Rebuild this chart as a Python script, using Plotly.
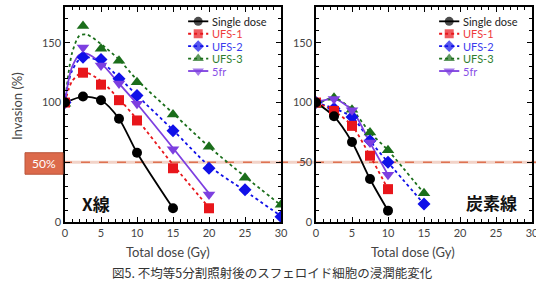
import plotly.graph_objects as go

# ---------------- data ----------------
series_names = ["Single dose", "UFS-1", "UFS-2", "UFS-3", "5fr"]

# X-ray panel (measured points)
x_dose_single = [0, 2.5, 5, 7.5, 10, 15]
x_single = [100, 105, 102, 86.5, 58, 11.5]
x_dose_ufs1 = [0, 2.5, 5, 7.5, 10, 15, 20]
x_ufs1 = [100, 125, 115, 102, 85, 45, 11.5]
x_dose_ufs2 = [0, 2.5, 5, 7.5, 10, 15, 20, 25, 30]
x_ufs2 = [100, 138, 136, 120, 106, 76.5, 45, 27, 4.5]
x_dose_ufs3 = [0, 2.5, 5, 7.5, 10, 15, 20, 25, 30]
x_ufs3 = [99, 164, 145, 135, 117, 90, 63, 37, 14.5]
x_dose_5fr = [0, 2.5, 5, 7.5, 10, 15, 20]
x_5fr = [100, 146, 131, 116, 99, 61, 23]

# X-ray panel fitted curves
fit_dose_long = [0, 0.5, 1, 2, 3, 5, 7.5, 10, 15, 20, 25, 30]
fit_ufs3 = [100, 125, 142, 156, 157, 149, 136, 119, 91, 63, 38, 14]
fit_ufs2 = [100, 117, 127, 136, 138, 134, 121, 106, 77, 47, 26, 5]
fit_dose_short = [0, 0.5, 1, 2, 3, 5, 7.5, 10, 15, 20]
fit_5fr = [100, 119, 130, 140, 141, 133, 116, 99, 62, 24]
fit_ufs1 = [100, 111, 118, 124, 125, 118, 103, 86, 48, 12]

# Carbon-ion panel
c_dose_single = [0, 2.5, 5, 7.5, 10]
c_single = [100, 88.5, 67, 36, 9.5]
c_dose_ufs1 = [0, 2.5, 5, 7.5, 10]
c_ufs1 = [100, 93, 80.5, 55.5, 27.5]
c_dose_ufs2 = [0, 2.5, 5, 7.5, 10, 15]
c_ufs2 = [100, 95, 88, 68, 50, 15]
c_dose_ufs3 = [0, 2.5, 5, 7.5, 10, 15]
c_ufs3 = [98, 104, 94, 75, 60, 24]
c_dose_5fr = [0, 2.5, 5, 7.5, 10]
c_5fr = [100, 103, 93.5, 66.5, 39.5]

threshold = 50
x_ticks = [0, 5, 10, 15, 20, 25, 30]
y_ticks = [0, 50, 100, 150]

# ---------------- styles ----------------
colors = ["#000000", "#e8161b", "#1010e8", "#1b6e1b", "#7d3fe0"]
text_colors = ["#222222", "#ee3b3b", "#3b3bee", "#2e7d2e", "#8a4fe6"]
symbols = ["circle", "square", "diamond", "triangle-up", "triangle-down"]
msizes = [10, 10, 10, 11, 11]
dashes = ["solid", "dot", "dot", "dot", "solid"]
LW = 1.8

fig = go.Figure()


def add_line(x, y, i, xa, ya, shape="spline"):
    fig.add_trace(go.Scatter(x=x, y=y, mode="lines", xaxis=xa, yaxis=ya,
                             line=dict(color=colors[i], width=LW, dash=dashes[i], shape=shape, smoothing=0.8),
                             showlegend=False, hoverinfo="skip"))


def add_markers(x, y, i, xa, ya):
    fig.add_trace(go.Scatter(x=x, y=y, mode="markers", xaxis=xa, yaxis=ya,
                             marker=dict(color=colors[i], symbol=symbols[i], size=msizes[i],
                                         line=dict(width=0)),
                             showlegend=False, name=series_names[i]))


# X-ray panel
add_line(fit_dose_long, fit_ufs3, 3, "x", "y")
add_line(fit_dose_long, fit_ufs2, 2, "x", "y")
add_line(fit_dose_short, fit_ufs1, 1, "x", "y")
add_line(fit_dose_short, fit_5fr, 4, "x", "y")
add_line(x_dose_single, x_single, 0, "x", "y")
add_markers(x_dose_ufs3, x_ufs3, 3, "x", "y")
add_markers(x_dose_ufs2, x_ufs2, 2, "x", "y")
add_markers(x_dose_5fr, x_5fr, 4, "x", "y")
add_markers(x_dose_ufs1, x_ufs1, 1, "x", "y")
add_markers(x_dose_single, x_single, 0, "x", "y")

# Carbon panel
c_data = [(c_dose_single, c_single), (c_dose_ufs1, c_ufs1), (c_dose_ufs2, c_ufs2),
          (c_dose_ufs3, c_ufs3), (c_dose_5fr, c_5fr)]
for i in [3, 2, 1, 4, 0]:
    add_line(c_data[i][0], c_data[i][1], i, "x2", "y2")
for i in [3, 2, 4, 1, 0]:
    add_markers(c_data[i][0], c_data[i][1], i, "x2", "y2")

# Legends (drawn inside each panel)
LEG_X0, LEG_X1, LEG_XT = 17.1, 19.9, 20.2
LEG_Y0, LEG_DY = 168, 10.4
annotations = []
for xa, ya, axn in [("x", "y", ""), ("x2", "y2", "2")]:
    for i, nm in enumerate(series_names):
        yy = LEG_Y0 - i * LEG_DY
        fig.add_trace(go.Scatter(
            x=[LEG_X0, (LEG_X0 + LEG_X1) / 2, LEG_X1], y=[yy, yy, yy],
            mode="lines+markers", xaxis=xa, yaxis=ya,
            line=dict(color=colors[i], width=LW, dash=dashes[i]),
            marker=dict(color=colors[i], symbol=symbols[i], size=[0, msizes[i] - 1, 0], line=dict(width=0)),
            showlegend=False, hoverinfo="skip"))
        annotations.append(dict(x=LEG_XT, y=yy, xref="x" + axn, yref="y" + axn, text=nm,
                                showarrow=False, xanchor="left", yanchor="middle",
                                font=dict(size=11, color=text_colors[i], family="Lato")))

# geometry helpers (pixels -> paper)
L, R, T, B = 65, 4, 7, 60
W, H = 536, 282
PW, PH = W - L - R, H - T - B


def px(x):
    return (x - L) / PW


def py(y):
    return (H - B - y) / PH


axis_common = dict(showline=True, linecolor="black", linewidth=1.5, mirror="ticks",
                   ticks="inside", ticklen=5, tickwidth=1.2, tickcolor="black",
                   showgrid=False, zeroline=False, ticklabeloverflow="allow",
                   tickfont=dict(size=11, color="#444444", family="Lato"))

fig.update_layout(
    width=W, height=H,
    margin=dict(l=L, r=R, t=T, b=B, autoexpand=False),
    paper_bgcolor="white", plot_bgcolor="white",
    showlegend=False,
    xaxis=dict(domain=[0, px(281)], range=[0, 30], tickvals=x_ticks, anchor="y",
               minor=dict(dtick=1, ticklen=3, ticks="inside", tickcolor="black"), **axis_common),
    yaxis=dict(domain=[0, 1], range=[0, 180], tickvals=y_ticks, anchor="x",
               minor=dict(dtick=10, ticklen=3, ticks="inside", tickcolor="black"), **axis_common),
    xaxis2=dict(domain=[px(316), 1], range=[0, 30], tickvals=x_ticks, anchor="y2",
                minor=dict(dtick=1, ticklen=3, ticks="inside", tickcolor="black"), **axis_common),
    yaxis2=dict(domain=[0, 1], range=[0, 180], tickvals=y_ticks, anchor="x2",
                minor=dict(dtick=10, ticklen=3, ticks="inside", tickcolor="black"), **axis_common),
)

shapes = [
    dict(type="line", xref="paper", yref="y", x0=px(63), x1=px(536), y0=threshold, y1=threshold,
         line=dict(color="#f2d3c8", width=3), layer="below"),
    dict(type="line", xref="paper", yref="y", x0=px(63), x1=px(536), y0=threshold, y1=threshold,
         line=dict(color="#de7251", width=1.6, dash="dash"), layer="below"),
    dict(type="rect", xref="paper", yref="y", x0=px(25), x1=px(63), y0=threshold - 10, y1=threshold + 8,
         fillcolor="#dc6a4b", line=dict(color="#b9553a", width=1)),
]
fig.update_layout(shapes=shapes)

ctr = dict(showarrow=False, xanchor="center", yanchor="middle")
annotations += [
    dict(x=px(44), y=threshold - 1, xref="paper", yref="y", text="50%",
         font=dict(size=12, color="white", family="Lato"), **ctr),
    dict(x=px(96), y=py(203), xref="paper", yref="paper", text="<b>X線</b>",
         font=dict(size=17, color="#111111", family="Noto Sans CJK JP"), **ctr),
    dict(x=px(491), y=py(202), xref="paper", yref="paper", text="<b>炭素線</b>",
         font=dict(size=17, color="#111111", family="Noto Sans CJK JP"), **ctr),
    dict(x=px(17), y=py(106), xref="paper", yref="paper", text="Invasion (%)",
         textangle=-90, font=dict(size=13, color="#444444", family="Lato"), **ctr),
    dict(x=px(168), y=py(252), xref="paper", yref="paper", text="Total dose (Gy)",
         font=dict(size=13, color="#444444", family="Lato"), **ctr),
    dict(x=px(413), y=py(252), xref="paper", yref="paper", text="Total dose (Gy)",
         font=dict(size=13, color="#444444", family="Lato"), **ctr),
    dict(x=px(272), y=py(272), xref="paper", yref="paper",
         text="図5. 不均等5分割照射後のスフェロイド細胞の浸潤能変化",
         font=dict(size=12.5, color="#333333", family="Noto Sans CJK JP"), **ctr),
]
fig.update_layout(annotations=annotations)

fig.write_html("out.html", config={"displayModeBar": False},
               post_script="document.body.style.margin='0px';")
